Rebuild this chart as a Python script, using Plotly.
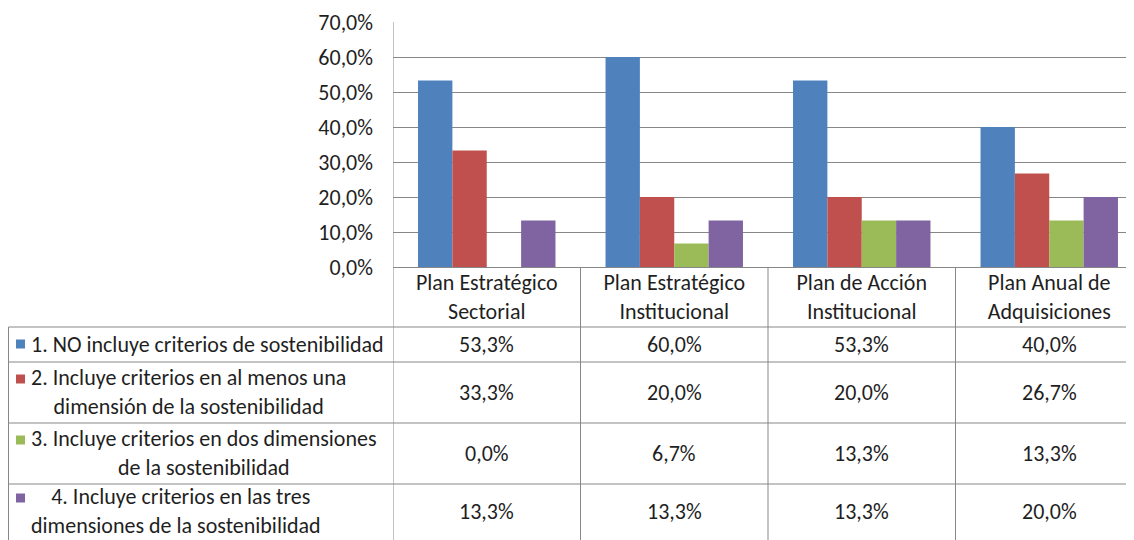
import plotly.graph_objects as go

categories = ['Plan Estratégico Sectorial', 'Plan Estratégico Institucional',
              'Plan de Acción Institucional', 'Plan Anual de Adquisiciones']
category_ticks = ['Plan Estratégico<br>Sectorial', 'Plan Estratégico<br>Institucional',
                  'Plan de Acción<br>Institucional', 'Plan Anual de<br>Adquisiciones']

series_names = [
    '1. NO incluye criterios de sostenibilidad',
    '2. Incluye criterios en al menos una dimensión de la sostenibilidad',
    '3. Incluye criterios en dos dimensiones de la sostenibilidad',
    '4. Incluye criterios en las tres dimensiones de la sostenibilidad',
]
table_labels = [
    '1. NO incluye criterios de sostenibilidad',
    '2. Incluye criterios en al menos una<br>dimensión de la sostenibilidad',
    '3. Incluye criterios en dos dimensiones<br>de la sostenibilidad',
    '  4. Incluye criterios en las tres<br>dimensiones de la sostenibilidad',
]

no_incluye = [53.3, 60.0, 53.3, 40.0]
una_dimension = [33.3, 20.0, 20.0, 26.7]
dos_dimensiones = [0.0, 6.7, 13.3, 13.3]
tres_dimensiones = [13.3, 13.3, 13.3, 20.0]
series_values = [no_incluye, una_dimension, dos_dimensiones, tres_dimensiones]

y_ticks = [0, 10, 20, 30, 40, 50, 60, 70]


def pct(v):
    return f'{v:.1f}%'.replace('.', ',')


colors = ['#4F81BD', '#C0504D', '#9BBB59', '#8064A2']
# the page body has an 8px margin, so the figure starts at (8, 8) in the window
OFF = 8
W, H = 1134 - OFF, 540 - OFF
FONT = 'Carlito, Calibri, Lato, sans-serif'
FS = 22
TEXT = '#1f1f1f'
GRID = '#878787'


def px(x):
    return (x - OFF) / W


def py(y):
    return 1 - (y - OFF) / H


fig = go.Figure()
for name, vals, col in zip(series_names, series_values, colors):
    fig.add_trace(go.Bar(x=categories, y=vals, name=name, marker_color=col,
                         marker_line_width=0))

# table geometry (window pixels)
table_left = 8.5
table_top = 327
row_lines = [362, 423, 484]
row_centers = [344, 392, 453, 511]
first_line = [344, 379, 440, 498]

shapes = []
for y in [table_top] + row_lines:
    shapes.append(dict(type='line', xref='paper', yref='paper',
                       x0=px(table_left), x1=1, y0=py(y), y1=py(y),
                       line=dict(color=GRID, width=1)))
shapes.append(dict(type='line', xref='paper', yref='paper',
                   x0=px(table_left), x1=px(table_left), y0=py(table_top), y1=0,
                   line=dict(color=GRID, width=1)))
for i in range(len(categories)):
    top = 22 if i == 0 else 267
    shapes.append(dict(type='line', xref='x', yref='paper',
                       x0=i - 0.5, x1=i - 0.5, y0=py(top), y1=0,
                       line=dict(color=GRID, width=1)))

annotations = []
for r, (lab, vals, col) in enumerate(zip(table_labels, series_values, colors)):
    shapes.append(dict(type='rect', xref='paper', yref='paper',
                       x0=px(16), x1=px(25), y0=py(first_line[r] + 4.5),
                       y1=py(first_line[r] - 4.5),
                       fillcolor=col, line=dict(width=0)))
    annotations.append(dict(xref='paper', yref='paper', x=px(29), y=py(row_centers[r]),
                            xanchor='left', yanchor='middle', align='center',
                            text=lab, showarrow=False,
                            font=dict(family=FONT, size=FS, color=TEXT)))
    for cat, v in zip(categories, vals):
        annotations.append(dict(xref='x', yref='paper', x=cat, y=py(row_centers[r]),
                                xanchor='center', yanchor='middle',
                                text=pct(v), showarrow=False,
                                font=dict(family=FONT, size=FS, color=TEXT)))

fig.update_layout(
    width=W, height=H,
    margin=dict(l=0, r=0, t=0, b=0),
    paper_bgcolor='white', plot_bgcolor='white',
    barmode='group', bargap=0.267, bargroupgap=0,
    showlegend=False,
    font=dict(family=FONT, size=FS, color=TEXT),
    shapes=shapes, annotations=annotations,
    xaxis=dict(
        domain=[px(393), 1],
        range=[-0.5, 3.5 - 9 / 187.5],
        tickmode='array', tickvals=categories, ticktext=category_ticks,
        showgrid=False, zeroline=False, showline=False, ticks='',
        ticklabelstandoff=0, automargin=False,
        tickfont=dict(family=FONT, size=FS, color=TEXT),
    ),
    yaxis=dict(
        domain=[py(267), py(22)],
        range=[0, 70],
        tickmode='array', tickvals=y_ticks, ticktext=[pct(v) for v in y_ticks],
        showgrid=True, gridcolor=GRID, gridwidth=1,
        zeroline=True, zerolinecolor=GRID, zerolinewidth=1,
        showline=False, ticks='',
        ticklabelstandoff=19, automargin=False,
        tickfont=dict(family=FONT, size=FS, color=TEXT),
    ),
)

fig.write_html('out.html')
